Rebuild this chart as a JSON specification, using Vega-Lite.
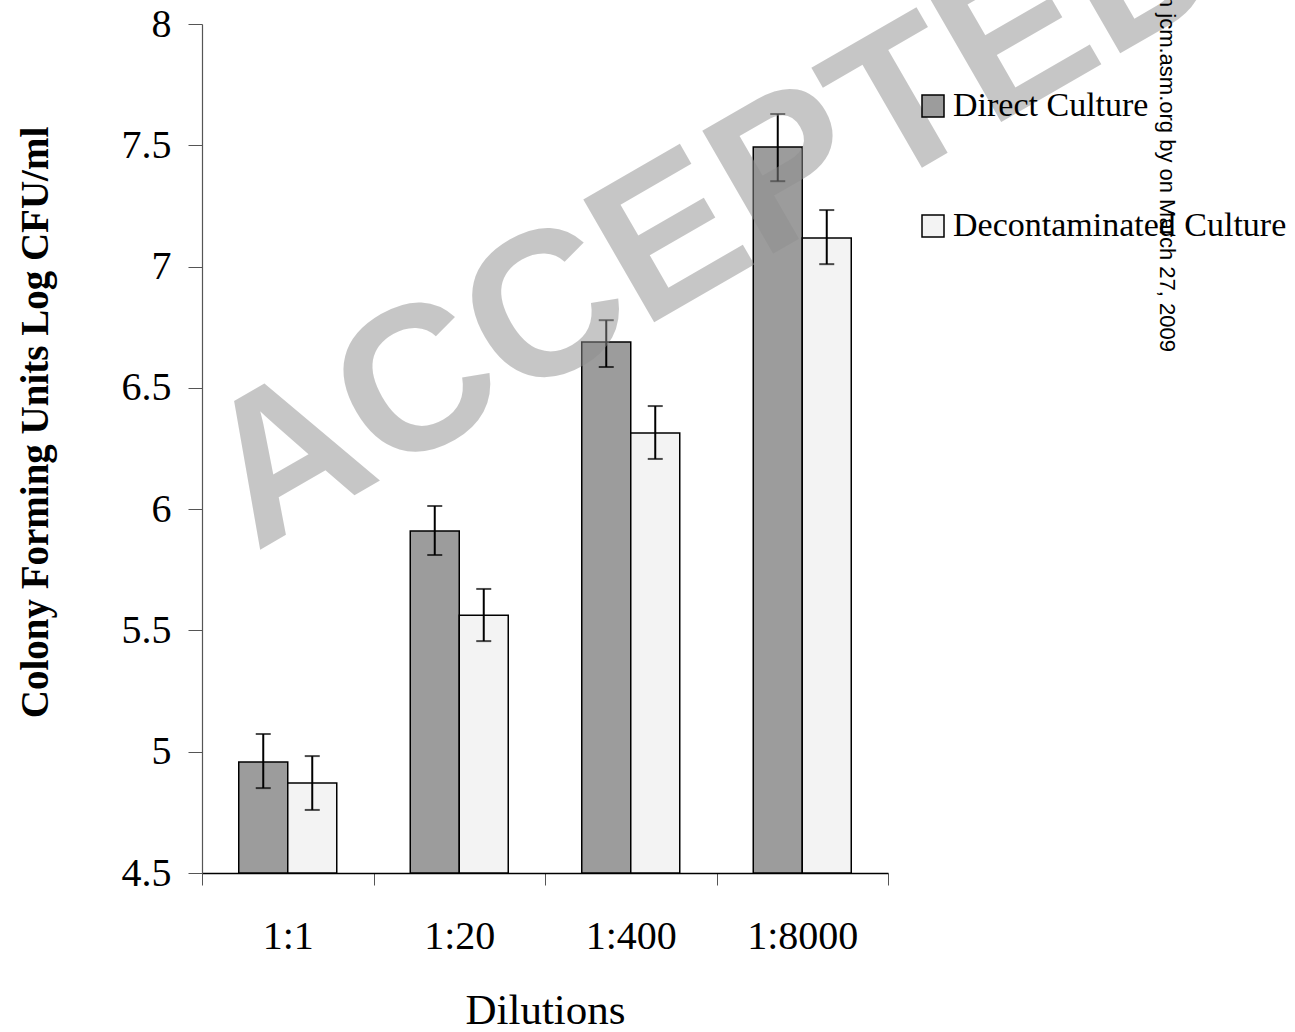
{
  "$schema": "https://vega.github.io/schema/vega-lite/v6.json",
  "width": 686,
  "height": 849,
  "autosize": "none",
  "padding": {"left": 202, "top": 24, "right": 407, "bottom": 159},
  "background": "white",
  "config": {"view": {"stroke": null}, "font": "Liberation Serif"},
  "resolve": {"scale": {"x": "independent"}},
  "layer": [
    {
      "data": {
        "values": [
          {"dilution": "1:1", "culture": "Direct Culture", "mean": 4.958, "lo": 4.85, "hi": 5.073},
          {"dilution": "1:1", "culture": "Decontaminated Culture", "mean": 4.871, "lo": 4.76, "hi": 4.982},
          {"dilution": "1:20", "culture": "Direct Culture", "mean": 5.91, "lo": 5.811, "hi": 6.013},
          {"dilution": "1:20", "culture": "Decontaminated Culture", "mean": 5.563, "lo": 5.456, "hi": 5.671},
          {"dilution": "1:400", "culture": "Direct Culture", "mean": 6.689, "lo": 6.586, "hi": 6.779},
          {"dilution": "1:400", "culture": "Decontaminated Culture", "mean": 6.314, "lo": 6.207, "hi": 6.425},
          {"dilution": "1:8000", "culture": "Direct Culture", "mean": 7.493, "lo": 7.352, "hi": 7.629},
          {"dilution": "1:8000", "culture": "Decontaminated Culture", "mean": 7.118, "lo": 7.01, "hi": 7.233}
        ]
      },
      "layer": [
        {
          "mark": {"type": "bar", "stroke": "black", "strokeWidth": 1.5},
          "encoding": {
            "x": {
              "field": "dilution", "type": "nominal",
              "sort": ["1:1", "1:20", "1:400", "1:8000"],
              "scale": {"paddingInner": 0, "paddingOuter": 0},
              "title": "Dilutions",
              "axis": {
                "tickBand": "extent",
                "labelFont": "Liberation Serif", "labelFontSize": 40, "labelColor": "black", "labelAngle": 0,
                "labelPadding": 63, "labelBaseline": "alphabetic",
                "tickSize": 12, "tickColor": "#555", "tickWidth": 1,
                "domainColor": "black", "domainWidth": 1.5,
                "titleFont": "Liberation Serif", "titleFontSize": 43, "titleFontWeight": "normal", "titleColor": "black",
                "titleY": 150, "titleBaseline": "alphabetic"
              }
            },
            "xOffset": {"field": "culture", "type": "nominal", "sort": ["Direct Culture", "Decontaminated Culture"], "scale": {"paddingInner": 0, "paddingOuter": 0.75}},
            "y": {
              "field": "mean", "type": "quantitative",
              "scale": {"domain": [4.5, 8], "zero": false, "nice": false},
              "title": "Colony Forming Units Log CFU/ml",
              "axis": {
                "values": [4.5, 5, 5.5, 6, 6.5, 7, 7.5, 8],
                "format": "~g",
                "grid": false,
                "labelFlush": false,
                "labelFont": "Liberation Serif", "labelFontSize": 40, "labelColor": "black", "labelPadding": 17,
                "tickSize": 14, "tickColor": "#555", "tickWidth": 1,
                "domainColor": "#555", "domainWidth": 1.2,
                "titleFont": "Liberation Serif", "titleFontSize": 39, "titleFontWeight": "bold", "titleColor": "black",
                "titleAngle": -90, "titleX": -155, "titleY": 398, "titleBaseline": "alphabetic", "titleAlign": "center"
              }
            },
            "y2": {"datum": 4.5},
            "fill": {
              "field": "culture", "type": "nominal",
              "scale": {"domain": ["Direct Culture", "Decontaminated Culture"], "range": ["#9c9c9c", "#f3f3f3"]},
              "legend": {
                "orient": "none", "legendX": 714, "legendY": 65, "title": null, "padding": 0,
                "symbolType": "square", "symbolSize": 484, "symbolStrokeColor": "black", "symbolStrokeWidth": 1.5,
                "labelFont": "Liberation Serif", "labelFontSize": 34, "labelColor": "black", "labelOffset": 3,
                "rowPadding": 86, "labelLimit": 600
              }
            }
          }
        },
        {
          "mark": {"type": "rule", "color": "black", "strokeWidth": 2},
          "encoding": {
            "x": {"field": "dilution", "type": "nominal", "sort": ["1:1", "1:20", "1:400", "1:8000"], "title": "Dilutions"},
            "xOffset": {"field": "culture", "type": "nominal", "sort": ["Direct Culture", "Decontaminated Culture"]},
            "y": {"field": "lo", "type": "quantitative", "scale": {"domain": [4.5, 8], "zero": false, "nice": false}, "title": "Colony Forming Units Log CFU/ml"},
            "y2": {"field": "hi"}
          }
        },
        {
          "mark": {"type": "tick", "color": "black", "thickness": 2, "size": 15, "orient": "horizontal"},
          "encoding": {
            "x": {"field": "dilution", "type": "nominal", "sort": ["1:1", "1:20", "1:400", "1:8000"], "title": "Dilutions"},
            "xOffset": {"field": "culture", "type": "nominal", "sort": ["Direct Culture", "Decontaminated Culture"]},
            "y": {"field": "hi", "type": "quantitative", "scale": {"domain": [4.5, 8], "zero": false, "nice": false}, "title": "Colony Forming Units Log CFU/ml"}
          }
        },
        {
          "mark": {"type": "tick", "color": "black", "thickness": 2, "size": 15, "orient": "horizontal"},
          "encoding": {
            "x": {"field": "dilution", "type": "nominal", "sort": ["1:1", "1:20", "1:400", "1:8000"], "title": "Dilutions"},
            "xOffset": {"field": "culture", "type": "nominal", "sort": ["Direct Culture", "Decontaminated Culture"]},
            "y": {"field": "lo", "type": "quantitative", "scale": {"domain": [4.5, 8], "zero": false, "nice": false}, "title": "Colony Forming Units Log CFU/ml"}
          }
        }
      ]
    },
    {
      "data": {"values": [{"label": "ACCEPTED"}]},
      "mark": {"type": "text", "font": "Liberation Sans", "fontWeight": "bold", "fontSize": 206, "angle": -30, "align": "center", "baseline": "middle", "color": "#8f8f8f", "opacity": 0.5},
      "encoding": {
        "text": {"field": "label"},
        "x": {"datum": 0.7485, "type": "quantitative", "scale": {"domain": [0, 1]}, "axis": null},
        "y": {"datum": 7.211, "type": "quantitative", "scale": {"domain": [4.5, 8], "zero": false, "nice": false}, "title": "Colony Forming Units Log CFU/ml"}
      }
    },
    {
      "data": {"values": [{"label": "Downloaded from jcm.asm.org by on March 27, 2009"}]},
      "mark": {"type": "text", "font": "Liberation Sans", "fontSize": 22, "angle": 90, "align": "right", "baseline": "middle", "color": "black"},
      "encoding": {
        "text": {"field": "label"},
        "x": {"datum": 1.4067, "type": "quantitative", "scale": {"domain": [0, 1]}, "axis": null},
        "y": {"datum": 6.648, "type": "quantitative", "scale": {"domain": [4.5, 8], "zero": false, "nice": false}, "title": "Colony Forming Units Log CFU/ml"}
      }
    }
  ]
}
